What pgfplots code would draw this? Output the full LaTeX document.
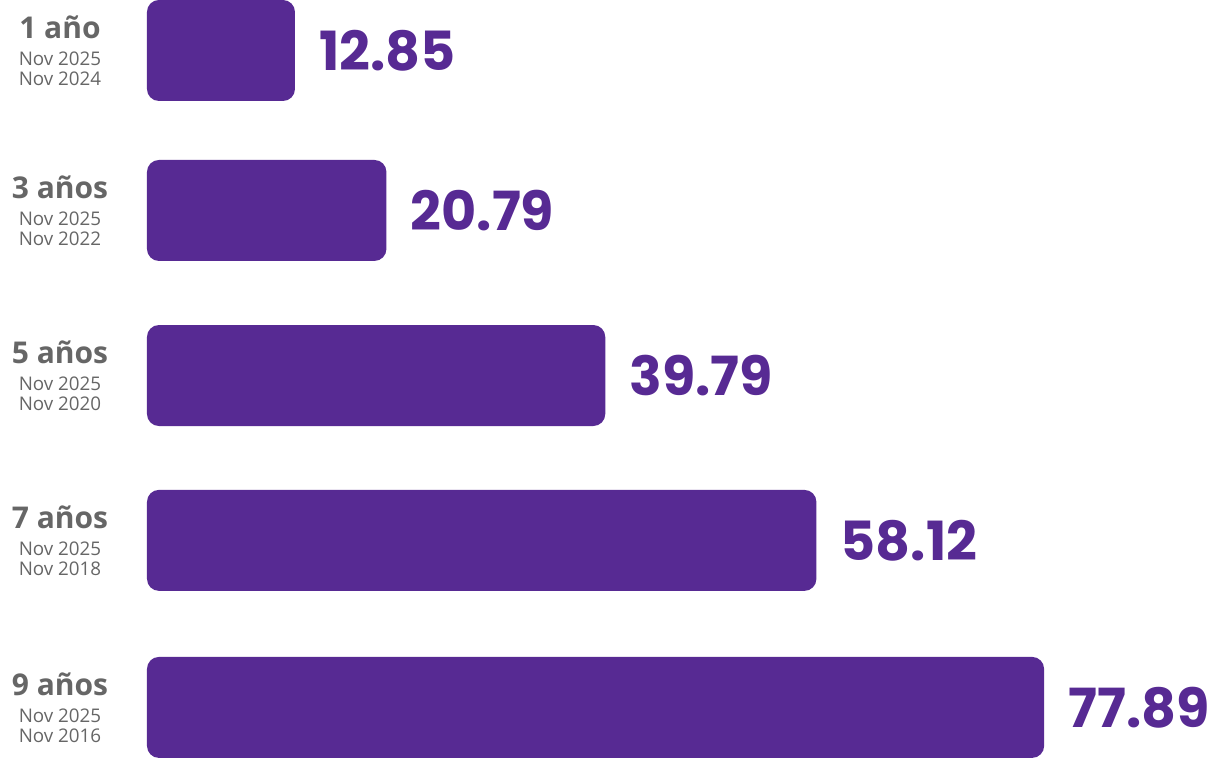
\documentclass[border=0pt]{standalone}
\usepackage{fontspec}
\setmainfont{Open Sans}
\newfontfamily\numfont{Poppins}
\usepackage{pgfplots}
\pgfplotsset{compat=1.18}
\definecolor{barpurple}{HTML}{572A93}
\definecolor{labelgray}{HTML}{666666}
\newcommand{\tl}[3]{{\bfseries\fontsize{15}{10}\selectfont #1}\\[3.5pt]#2\\#3}
\begin{document}
\begin{tikzpicture}
\path (0,0) rectangle (610.5pt,379.5pt);
\begin{axis}[
    at={(73.5pt,0pt)}, anchor=south west,
    scale only axis, width=537pt, height=379.5pt,
    xbar, bar width=0.615,
    xmin=0, xmax=93.23,
    ymin=-0.304, ymax=4.317, y dir=reverse,
    axis line style={draw=none},
    major tick length=0pt,
    xtick=\empty,
    ytick={0,0.974,1.979,2.983,4},
    yticklabels={
      {\tl{1 año}{Nov 2025}{Nov 2024}},
      {\tl{3 años}{Nov 2025}{Nov 2022}},
      {\tl{5 años}{Nov 2025}{Nov 2020}},
      {\tl{7 años}{Nov 2025}{Nov 2018}},
      {\tl{9 años}{Nov 2025}{Nov 2016}}},
    yticklabel style={anchor=center, xshift=-43.5pt, align=center, text=labelgray,
      inner sep=0pt, font=\fontsize{9.4}{10}\selectfont},
    clip=false,
    point meta=explicit symbolic,
    nodes near coords,
    nodes near coords style={anchor=west, xshift=12pt, inner sep=0pt,
      font=\numfont\bfseries\fontsize{27}{27}\selectfont, text=barpurple},
]
\addplot[fill=barpurple, draw=none, rounded corners=6pt] coordinates {
  (12.85,0) [12.85]
  (20.79,0.974) [20.79]
  (39.79,1.979) [39.79]
  (58.12,2.983) [58.12]
  (77.89,4) [77.89]
};
\end{axis}
\end{tikzpicture}
\end{document}
